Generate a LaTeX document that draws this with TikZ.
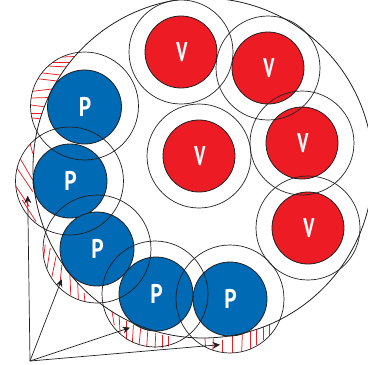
\documentclass[tikz,border=0pt]{standalone}
\usepackage{fontspec}
\setmainfont{PT Sans}
\usetikzlibrary{arrows.meta}
\definecolor{ink}{HTML}{231F20}
\definecolor{vred}{HTML}{ED1C24}
\definecolor{pblue}{HTML}{006AB4}
\tikzset{
  x=1pt,y=-1pt,
  ring/.style={circle,draw=ink,line width=0.7pt,minimum size=#1,inner sep=0pt},
  pcore/.style={circle,draw=ink,line width=0.8pt,fill=pblue,minimum size=74pt,inner sep=0pt,text=white,font=\fontsize{27}{27}\selectfont\bfseries},
  vcore/.style={circle,draw=ink,line width=0.8pt,fill=vred,minimum size=72pt,inner sep=0pt,text=white,font=\fontsize{27}{27}\selectfont\bfseries},
  hatch/.style={draw=vred,line width=0.75pt,shorten <=-2pt,shorten >=-2pt},
  pointer/.style={draw=ink,line width=0.7pt,-{Stealth[length=7.5pt,width=7pt]}},
}
\newcommand{\narp}[1]{\hspace{1pt}\scalebox{0.8}[1]{#1}}
\newcommand{\narv}[1]{\hspace{2pt}\scalebox{0.68}[1]{#1}}
\newcommand{\hatchzone}[2]{%
  \begin{scope}[even odd rule]
    \clip (#1) circle (54);
    \clip (-50,-50) rectangle (450,450) (203,168) circle (170);
    \foreach \a/\b/\c/\d in {#2} { \draw[hatch] (\a,\b) -- (\c,\d); }
  \end{scope}}
\begin{document}
\begin{tikzpicture}
\useasboundingbox (0,0) rectangle (368,365);
% hatching
\hatchzone{84.5,106}{63/57/74/56.5, 53/62/70/62, 48/66/68/67, 43/73/60/75, 40/79/57/81, 35/91/52/89, 31/98/50/97.5, 31/105/46/107, 31/113/44/113, 33/118/42/119}
\hatchzone{69.5,181}{30/143.3/32.3/151.7, 20/158.3/31.7/178.3, 16.7/167.7/31.7/190, 15/185/28.3/205, 23.3/201.7/35/220}
\hatchzone{97,249}{45/246.7/43.3/260, 50/250/47.3/266.7, 55.7/258.3/52.3/275, 61.7/266.7/60/283.3, 70/276.7/70.7/293.3, 77.7/283.3/78.3/298.3, 84.3/295/85/302}
\hatchzone{156,294}{112.3/313.3/114/323.3, 119.3/318.3/120/331.7, 126/323/126/338, 133.3/326.7/132.3/343.3, 140.7/328.3/139/345, 147.7/331.7/146.7/346.7, 155.7/335/155/348.3, 162.3/336.7/162.3/348.3, 168.3/338.3/168.3/346}
\hatchzone{230,299}{205/339.3/205.7/348.3, 213.3/340.7/212.7/351.7, 222.3/341.7/222.3/353.3, 232.3/336.7/232.3/353.3, 242.3/335/241.7/351.7, 250.7/332.7/250.7/348.3, 256.7/331.7/256.7/343.3, 263.3/329.3/263.3/338.3, 269.3/325/269.3/334}
% cores
\node[pcore] (p1) at (84.5,107) {\narp{P}};
\node[pcore] (p2) at (70,181) {\narp{P}};
\node[pcore] (p3) at (97,249) {\narp{P}};
\node[pcore] (p4) at (156,294) {\narp{P}};
\node[pcore] (p5) at (230,299) {\narp{P}};
\node[vcore] (v1) at (181,52) {\narv{V}};
\node[vcore] (v2) at (268,68) {\narv{V}};
\node[vcore] (v3) at (302,143) {\narv{V}};
\node[vcore] (v4) at (308,228) {\narv{V}};
\node[vcore] (v5) at (199,156) {\narv{V}};
% envelope and rings
\draw[ink,line width=0.8pt] (203,168) circle (170);
\node[ring=108pt] (rp1) at (84.5,106) {};
\node[ring=108pt] (rp2) at (69.5,181) {};
\node[ring=108pt] (rp3) at (97,249) {};
\node[ring=106pt] (rp4) at (155,294) {};
\node[ring=108pt] (rp5) at (230,299) {};
\node[ring=104pt] (rv1) at (181,52) {};
\node[ring=104pt] (rv2) at (268,68) {};
\node[ring=104pt] (rv3) at (302,143) {};
\node[ring=104pt] (rv4) at (308,228) {};
\node[ring=104pt] (rv5) at (199,156) {};
% pointers
\coordinate (apex) at (30,361);
\coordinate (t1) at (27.7,195.7);
\coordinate (t2) at (61.7,279.3);
\coordinate (t3) at (130,327.7);
\coordinate (t4) at (220,344.7);
\draw[pointer] (apex) -- (t1);
\draw[pointer] (apex) -- (t2);
\draw[pointer] (apex) -- (t3);
\draw[pointer] (apex) -- (t4);
\end{tikzpicture}
\end{document}
